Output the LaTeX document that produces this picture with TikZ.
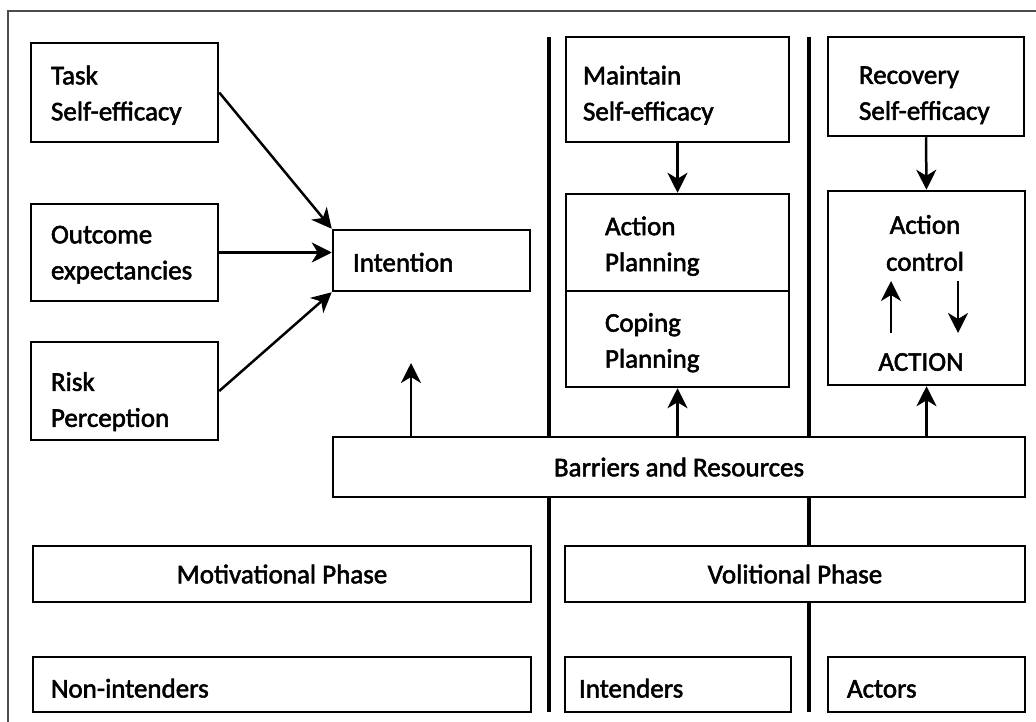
\documentclass[tikz,border=0pt]{standalone}
\usepackage{fontspec}
\setmainfont[FakeBold=2]{Carlito}
\usetikzlibrary{arrows.meta}
\hyphenpenalty=10000
\exhyphenpenalty=10000
\newcommand{\topstrut}[1]{\rule{0pt}{#1}}
\tikzset{
  box/.style={draw, fill=white, line width=2.5pt, inner sep=0pt, font=\fontsize{27}{36}\selectfont},
  lbox/.style={box, align=left, inner xsep=20pt},
  cbox/.style={box, align=center},
  txt/.style={inner sep=0pt, align=center, font=\fontsize{27}{37}\selectfont},
  arr/.style={line width=2.5pt, -{Stealth[length=20pt,width=20pt,inset=6pt]}},
  divider/.style={line width=3.5pt},
}
\begin{document}
\begin{tikzpicture}[x=1pt,y=-1pt]
    \useasboundingbox (0,0) rectangle (1036,722);
    % frame
    \draw[black!70, line width=1.2pt] (1036,11) -- (8,11) -- (8,722);
    % phase dividers
    \draw[divider] (549,37) -- (549,712);
    \draw[divider] (809,37) -- (809,712);
    % motivational phase
    \node[lbox, text width=147pt, minimum height=99pt] (task) at (124.5,92.5) {\topstrut{24pt}Task\\Self-efficacy};
    \node[lbox, text width=147pt, minimum height=97pt] (outcome) at (124.5,252.5) {\topstrut{22pt}Outcome\\expectancies};
    \node[lbox, text width=147pt, minimum height=98pt] (risk) at (124.5,391) {\topstrut{40pt}Risk\\Perception};
    \node[lbox, text width=157pt, minimum height=61pt, text height=22pt, text depth=0pt] (intention) at (431.5,260.5) {Intention};
    % volitional phase
    \node[lbox, inner xsep=17pt, text width=189pt, minimum height=105pt] (maintain) at (677.5,89.5) {\topstrut{30pt}Maintain\\Self-efficacy};
    \node[lbox, inner xsep=39pt, text width=145pt, minimum height=97pt] (actplan) at (677.5,242.5) {\topstrut{26pt}Action\\Planning};
    \node[lbox, inner xsep=39pt, text width=145pt, minimum height=96pt] (copeplan) at (677.5,339) {\topstrut{26pt}Coping\\Planning};
    \node[lbox, inner xsep=31pt, text width=134pt, minimum height=99pt] (recovery) at (926,86.5) {\topstrut{35pt}Recovery\\Self-efficacy};
    \node[cbox, minimum width=197pt, minimum height=194pt] (actctrl) at (926.5,288) {};
    \node[txt] (ctrltxt) at (925,243) {Action\\control};
    \node[txt] (actiontxt) at (921,362) {ACTION};
    \coordinate (upfoot) at (891,333);
    \coordinate (uphead) at (891,281);
    \coordinate (dnfoot) at (958,281);
    \coordinate (dnhead) at (958,333);
    \draw[arr] (upfoot) -- (uphead);
    \draw[arr] (dnfoot) -- (dnhead);
    % barriers and phases
    \node[cbox, minimum width=692pt, minimum height=60pt] (barriers) at (679,467) {Barriers and Resources};
    \node[cbox, minimum width=498pt, minimum height=56pt] (motiv) at (282,574) {Motivational Phase};
    \node[cbox, minimum width=460pt, minimum height=56pt] (volit) at (795,574) {Volitional Phase};
    \node[lbox, inner xsep=18pt, text width=462pt, minimum height=55pt, text height=26pt, text depth=0pt] (nonint) at (282,684.5) {Non-intenders};
    \node[lbox, inner xsep=14pt, text width=198pt, minimum height=55pt, text height=26pt, text depth=0pt] (intenders) at (678,684.5) {Intenders};
    \node[lbox, inner xsep=19pt, text width=159pt, minimum height=55pt, text height=26pt, text depth=0pt] (actors) at (926.5,684.5) {Actors};
    % arrows
    \coordinate (intup) at (411,363);
    \draw[arr] (task.east) -- (intention.north west);
    \draw[arr] (outcome.east) -- (outcome.east -| intention.west);
    \draw[arr] (risk.east) -- (intention.south west);
    \draw[arr] (maintain.south) -- (actplan.north);
    \draw[arr] (recovery.south) -- (actctrl.north);
    \draw[arr] (barriers.north -| intup) -- (intup);
    \draw[arr] (barriers.north -| copeplan.south) -- (copeplan.south);
    \draw[arr] (barriers.north -| actctrl.south) -- (actctrl.south);
\end{tikzpicture}
\end{document}
